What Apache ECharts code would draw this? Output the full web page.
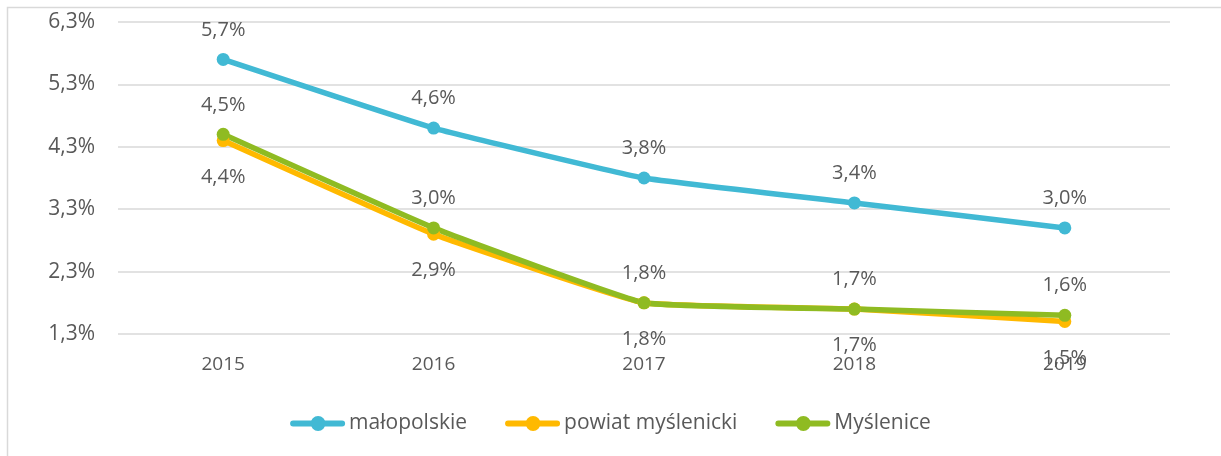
<!DOCTYPE html>
<html>
<head>
<meta charset="utf-8">
<script src="https://cdn.jsdelivr.net/npm/echarts@6/dist/echarts.min.js"></script>
<style>
    html, body { margin: 0; padding: 0; background: #fff; }
    #chart { width: 1221px; height: 456px; }
</style>
</head>
<body>
<div id="chart"></div>
<script>
var years = ['2015', '2016', '2017', '2018', '2019'];
var malopolskie = [5.7, 4.6, 3.8, 3.4, 3.0];
var powiat = [4.4, 2.9, 1.8, 1.7, 1.5];
var myslenice = [4.5, 3.0, 1.8, 1.7, 1.6];
var yBase = 1.3; // axis starts at 1,3%

var font = 'Open Sans';
var grey = '#595959';

function pl(v) {
    return v.toFixed(1).replace('.', ',') + '%';
}

// values are shifted by yBase so ticks land on 1,3 / 2,3 / ...
function shifted(arr) {
    return arr.map(function(v) { return +(v - yBase).toFixed(4); });
}

function makeSeries(name, arr, color, pos, dist) {
    return {
        name: name,
        type: 'line',
        data: shifted(arr),
        smooth: 0.1,
        symbol: 'circle',
        symbolSize: 13,
        lineStyle: { width: 5.5, color: color },
        itemStyle: { color: color },
        label: {
            show: true,
            position: pos,
            distance: dist,
            fontFamily: font,
            fontSize: 20,
            color: grey,
            formatter: function(p) { return pl(arr[p.dataIndex]); }
        }
    };
}

var myChart = echarts.init(document.getElementById('chart'));
myChart.setOption({
    animation: false,
    graphic: [{
        type: 'rect',
        shape: { x: 7.5, y: 7.5, width: 1230, height: 470 },
        style: { fill: 'none', stroke: '#d9d9d9', lineWidth: 1.5 },
        silent: true
    }],
    grid: { left: 118, right: 51, top: 22, bottom: 122 },
    legend: {
        top: 408,
        left: 'center',
        itemWidth: 55,
        itemHeight: 15,
        itemGap: 38,
        icon: 'path://M3,4.5 L52,4.5 A3,3 0 0,1 52,10.5 L3,10.5 A3,3 0 0,1 3,4.5 Z M35.5,7.5 A7.5,7.5 0 1,1 20.5,7.5 A7.5,7.5 0 1,1 35.5,7.5 Z',
        textStyle: { fontFamily: font, fontSize: 21, color: grey, padding: [0, 0, 0, -1] },
        data: ['małopolskie', 'powiat myślenicki', 'Myślenice']
    },
    xAxis: {
        type: 'category',
        data: years,
        boundaryGap: true,
        axisLine: { show: false },
        axisTick: { show: false },
        axisLabel: { margin: 21, fontFamily: font, fontSize: 19, color: grey }
    },
    yAxis: {
        type: 'value',
        min: 0,
        max: 5,
        interval: 1,
        axisLine: { show: false },
        axisTick: { show: false },
        splitLine: { lineStyle: { color: '#d9d9d9', width: 1.5 } },
        axisLabel: {
            margin: 23,
            fontFamily: font,
            fontSize: 21,
            color: grey,
            formatter: function(v) { return pl(v + yBase); }
        }
    },
    series: [
        makeSeries('małopolskie', malopolskie, '#41b9d4', 'top', 13),
        makeSeries('powiat myślenicki', powiat, '#ffb900', 'bottom', 20),
        makeSeries('Myślenice', myslenice, '#8fbb22', 'top', 13)
    ]
});
</script>
</body>
</html>
